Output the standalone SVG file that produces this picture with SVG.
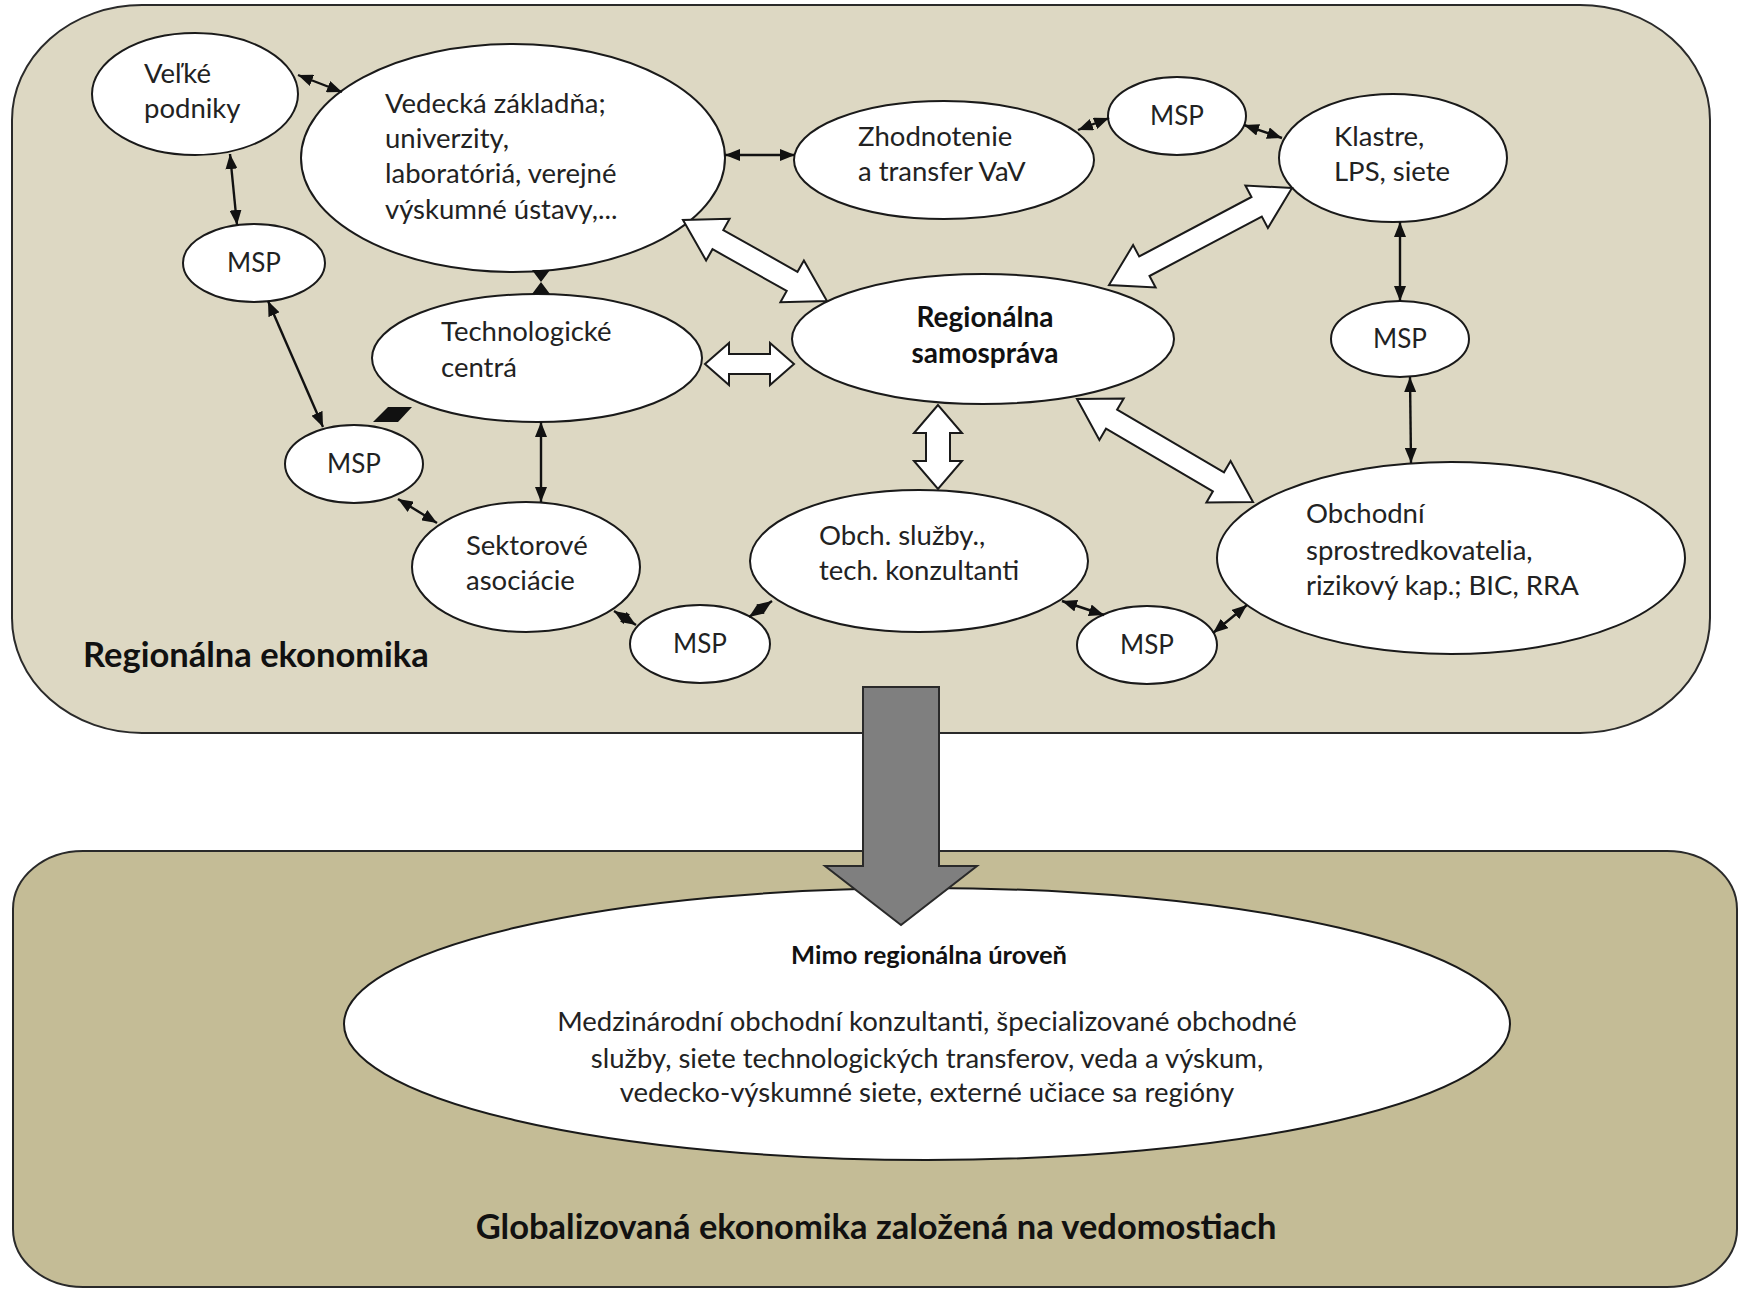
<svg xmlns="http://www.w3.org/2000/svg" width="1741" height="1289" viewBox="0 0 1741 1289">
<defs>
<style>
.node{fill:#ffffff;stroke:#1a1a1a;stroke-width:2}
.t{font-family:Lato,"Liberation Sans",sans-serif;font-size:27.5px;fill:#222}
.tc{font-family:Lato,"Liberation Sans",sans-serif;font-size:27.5px;fill:#222;text-anchor:middle}
.m{font-family:Lato,"Liberation Sans",sans-serif;font-size:26px;fill:#222;text-anchor:middle}
.b{font-family:Lato,"Liberation Sans",sans-serif;font-weight:bold;fill:#111}
.ln{stroke:#111;stroke-width:2.4;fill:none;marker-start:url(#ah);marker-end:url(#ah)}
.hol{fill:#ffffff;stroke:#1a1a1a;stroke-width:2;stroke-linejoin:miter}
.blk{fill:#111;stroke:none}
</style>
<marker id="ah" viewBox="0 0 15 12" refX="15" refY="6" markerWidth="15" markerHeight="12" markerUnits="userSpaceOnUse" orient="auto-start-reverse">
<path d="M0,0 L15,6 L0,12 Z" fill="#111"/>
</marker>
</defs>
<rect width="1741" height="1289" fill="#ffffff"/>
<g id="panel-regional">
<rect x="12" y="5" width="1698" height="728" rx="130" ry="115" fill="#ddd8c3" stroke="#2a2a2a" stroke-width="2"/>
<text class="b" x="83" y="667" font-size="34.5">Regionálna ekonomika</text>
</g>
<g id="panel-global">
<rect x="13" y="851" width="1724" height="436" rx="70" ry="58" fill="#c4bc96" stroke="#2a2a2a" stroke-width="2"/>
<text class="b" x="876" y="1239" font-size="34.5" text-anchor="middle">Globalizovaná ekonomika založená na vedomostiach</text>
</g>
<g id="node-mimo">
<ellipse class="node" cx="927" cy="1024" rx="583" ry="136"/>
<text class="b" x="929" y="964" font-size="25.5" text-anchor="middle">Mimo regionálna úroveň</text>
<text class="tc" x="927" y="1031">Medzinárodní obchodní konzultanti, špecializované obchodné</text>
<text class="tc" x="927" y="1068">služby, siete technologických transferov, veda a výskum,</text>
<text class="tc" x="927" y="1102">vedecko-výskumné siete, externé učiace sa regióny</text>
</g>
<g id="big-arrow">
<polygon points="863,687 939,687 939,866 977,866 901,925 825,866 863,866" fill="#7f7f7f" stroke="#2a2a2a" stroke-width="2"/>
</g>
<g id="node-velke">
<ellipse class="node" cx="195" cy="94" rx="103" ry="61"/>
<text class="t" x="144" y="83">Veľké</text>
<text class="t" x="144" y="118">podniky</text>
</g>
<g id="node-vedecka">
<ellipse class="node" cx="513" cy="158" rx="212" ry="114"/>
<text class="t" x="385" y="113">Vedecká základňa;</text>
<text class="t" x="385" y="148">univerzity,</text>
<text class="t" x="385" y="183">laboratóriá, verejné</text>
<text class="t" x="385" y="219">výskumné ústavy,...</text>
</g>
<g id="node-msp1">
<ellipse class="node" cx="254" cy="263" rx="71" ry="39"/>
<text class="m" x="254" y="272">MSP</text>
</g>
<g id="node-tech">
<ellipse class="node" cx="537" cy="358" rx="165" ry="64"/>
<text class="t" x="441" y="341">Technologické</text>
<text class="t" x="441" y="377">centrá</text>
</g>
<g id="node-zhod">
<ellipse class="node" cx="944" cy="160" rx="150" ry="59"/>
<text class="t" x="858" y="146">Zhodnotenie</text>
<text class="t" x="858" y="181">a transfer VaV</text>
</g>
<g id="node-msp2">
<ellipse class="node" cx="1177" cy="116" rx="69" ry="39"/>
<text class="m" x="1177" y="125">MSP</text>
</g>
<g id="node-klastre">
<ellipse class="node" cx="1393" cy="158" rx="114" ry="64"/>
<text class="t" x="1334" y="146">Klastre,</text>
<text class="t" x="1334" y="181">LPS, siete</text>
</g>
<g id="node-reg">
<ellipse class="node" cx="983" cy="339" rx="191" ry="65"/>
<text class="b" x="985" y="327" font-size="28" text-anchor="middle">Regionálna</text>
<text class="b" x="985" y="363" font-size="28" text-anchor="middle">samospráva</text>
</g>
<g id="node-msp3">
<ellipse class="node" cx="1400" cy="339" rx="69" ry="38"/>
<text class="m" x="1400" y="348">MSP</text>
</g>
<g id="node-msp4">
<ellipse class="node" cx="354" cy="464" rx="69" ry="39"/>
<text class="m" x="354" y="473">MSP</text>
</g>
<g id="node-sekt">
<ellipse class="node" cx="526" cy="567" rx="114" ry="65"/>
<text class="t" x="466" y="555">Sektorové</text>
<text class="t" x="466" y="590">asociácie</text>
</g>
<g id="node-msp5">
<ellipse class="node" cx="700" cy="644" rx="70" ry="39"/>
<text class="m" x="700" y="653">MSP</text>
</g>
<g id="node-obchsl">
<ellipse class="node" cx="919" cy="561" rx="169" ry="71"/>
<text class="t" x="819" y="545">Obch. služby.,</text>
<text class="t" x="819" y="580">tech. konzultanti</text>
</g>
<g id="node-msp6">
<ellipse class="node" cx="1147" cy="645" rx="70" ry="39"/>
<text class="m" x="1147" y="654">MSP</text>
</g>
<g id="node-obchodni">
<ellipse class="node" cx="1451" cy="558" rx="234" ry="96"/>
<text class="t" x="1306" y="523">Obchodní</text>
<text class="t" x="1306" y="560">sprostredkovatelia,</text>
<text class="t" x="1306" y="595">rizikový kap.; BIC, RRA</text>
</g>
<g id="connectors">
<line class="ln" x1="298" y1="75" x2="342" y2="92"/>
<line class="ln" x1="230" y1="154" x2="237" y2="225"/>
<line class="ln" x1="268" y1="301" x2="323" y2="427"/>
<line class="ln" x1="725" y1="155" x2="795" y2="155"/>
<line class="ln" x1="1078" y1="130" x2="1109" y2="118"/>
<line class="ln" x1="1244" y1="125" x2="1282" y2="138"/>
<line class="ln" x1="1400" y1="222" x2="1400" y2="301"/>
<line class="ln" x1="1410" y1="377" x2="1411" y2="463"/>
<line class="ln" x1="541" y1="422" x2="541" y2="502"/>
<line class="ln" x1="398" y1="499" x2="437" y2="523"/>
<line class="ln" x1="614" y1="611" x2="636" y2="625"/>
<line class="ln" x1="772" y1="601" x2="749" y2="617"/>
<line class="ln" x1="1062" y1="601" x2="1104" y2="615"/>
<line class="ln" x1="1213" y1="633" x2="1247" y2="605"/>
<path class="blk" d="M532,270 L550,270 L541,282 L550,294 L532,294 L541,282 Z"/>
<polygon class="blk" points="373,422 388,407 412,407 398,422"/>
<polygon class="hol" points="683,220 706.1,260.5 712.5,249.2 786.7,291 780.4,302.3 827,301 803.9,260.5 797.5,271.8 723.3,230 729.6,218.7"/>
<polygon class="hol" points="705,364 729,385 729,374 770,374 770,385 794,364 770,343 770,354 729,354 729,343"/>
<polygon class="hol" points="1292,188 1245.4,185.5 1251.5,197 1139.2,256.5 1133.1,245.1 1109,285 1155.6,287.5 1149.5,276 1261.8,216.5 1267.9,228"/>
<polygon class="hol" points="938,405 914,433 926,433 926,461 914,461 938,489 962,461 950,461 950,433 962,433"/>
<polygon class="hol" points="1077,399 1099.4,439.9 1106,428.7 1212.9,491.3 1206.4,502.5 1253,502 1230.6,461.1 1224,472.3 1117.1,409.7 1123.7,398.5"/>
</g>
</svg>
